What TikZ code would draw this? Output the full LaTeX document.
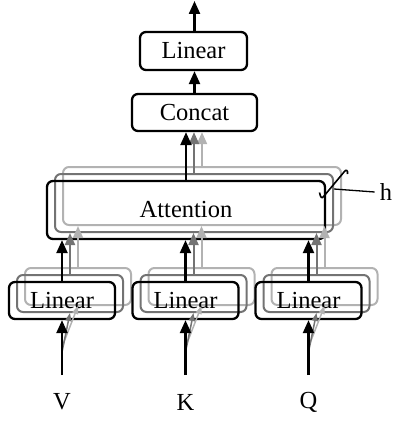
\documentclass[tikz,border=0pt]{standalone}
\usepackage{fontspec}
\setmainfont{Liberation Serif}
\usetikzlibrary{arrows.meta}
\definecolor{gdark}{gray}{0.45}
\definecolor{glight}{gray}{0.70}
\tikzset{
  boxF/.style={draw=black, line width=2.3pt, rounded corners=6pt, inner sep=0pt, font=\fontsize{24.5}{28}\selectfont},
  boxM/.style={draw=gdark, line width=2pt, rounded corners=6pt, inner sep=0pt},
  boxB/.style={draw=glight, line width=2pt, rounded corners=6pt, inner sep=0pt},
  arrF/.style={draw=black, line width=2.3pt, -{Triangle[length=13pt,width=11pt]}},
  arrM/.style={draw=gdark, line width=2pt, -{Triangle[length=12pt,width=10pt]}},
  arrB/.style={draw=glight, line width=2pt, -{Triangle[length=12pt,width=10pt]}},
  arrMs/.style={draw=gdark, line width=1.5pt, -{Triangle[length=8pt,width=6pt]}},
  arrBs/.style={draw=glight, line width=1.5pt, -{Triangle[length=8pt,width=6pt]}},
  lbl/.style={font=\fontsize{24.5}{28}\selectfont, inner sep=0pt},
  linsize/.style={minimum width=106pt, minimum height=37pt},
  attsize/.style={minimum width=278pt, minimum height=58pt}
}
\begin{document}
\begin{tikzpicture}[x=1pt,y=-1pt]
\useasboundingbox (0,0) rectangle (393,422);
% top
\node[boxF, minimum width=107pt, minimum height=38pt] (lintop) at (193.5,51) {Linear};
\node[boxF, minimum width=125pt, minimum height=37pt] (concat) at (194.5,112.5) {Concat};
\coordinate (out) at (194.5,1);
\draw[arrF] (lintop.north -| concat.north) -- (out);
\draw[arrF] (concat.north) -- (concat.north |- lintop.south);
% attention layers
\node[boxB, attsize] (attB) at (202,196) {};
\node[boxM, attsize] (attM) at (194,203) {};
\node[boxF, attsize] (attF) at (186,210) {Attention};
\draw[arrB] (attB.north) -- (attB.north |- concat.south);
\draw[arrM] (attM.north) -- (attM.north |- concat.south);
\draw[arrF] (attF.north) -- (attF.north |- concat.south);
% linear layers
\foreach \n/\x in {V/62, K/185.5, Q/308.5}{
  \node[boxB, linsize] (lin\n B) at (\x+16,286.5) {};
  \node[boxM, linsize] (lin\n M) at (\x+8,293.5) {};
  \node[boxF, linsize] (lin\n F) at (\x,300.5) {Linear};
  \draw[arrB] (lin\n B.north) -- (lin\n B.north |- attB.south);
  \draw[arrM] (lin\n M.north) -- (lin\n M.north |- attM.south);
  \draw[arrF] (lin\n F.north) -- (lin\n F.north |- attF.south);
  \node[lbl] (in\n) at (\x,402) {\n};
  \coordinate (base\n) at (\x,375);
  \coordinate (gm\n) at (\x,352);
  \coordinate (gb\n) at (\x,347);
  \draw[arrBs] (gb\n) -- (lin\n B.south);
  \draw[arrMs] (gm\n) -- (lin\n M.south);
  \draw[arrF] (base\n) -- (lin\n F.south);
}
% h marker
\node[lbl] (h) at (386,192) {h};
\coordinate (hl) at (334,189);
\draw[line width=1.3pt] (hl) -- ([xshift=-5pt]h.west);
\draw[line width=1.6pt] (319.5,192.5) .. controls (320.5,198) and (322,199) .. (324,196) -- (344,172) .. controls (346,169) and (348,170) .. (347.5,174);
\end{tikzpicture}
\end{document}
